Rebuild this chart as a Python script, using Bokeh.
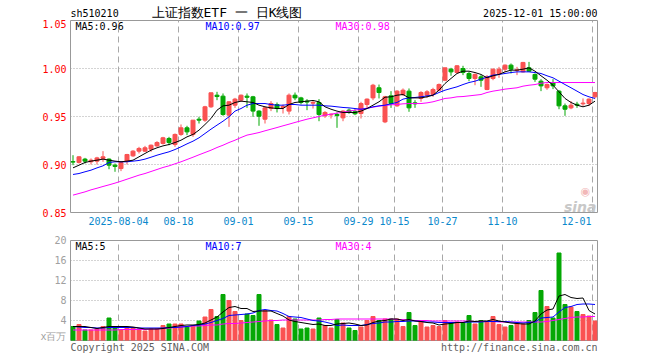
import numpy as np
from bokeh.plotting import figure
from bokeh.layouts import column
from bokeh.models import Range1d, FixedTicker, Label, PrintfTickFormatter, ColumnDataSource
from bokeh.embed import file_html
from bokeh.resources import INLINE

# ---------------- data ----------------
tick_idx = [8, 18, 28, 38, 48, 54, 62, 72, 87]
tick_labels = ["2025-08-04", "08-18", "09-01", "09-15", "09-29", "10-15", "10-27", "11-10", "12-01"]
price_ticks = [0.85, 0.90, 0.95, 1.00, 1.05]
vol_ticks = [0, 4, 8, 12, 16, 20]

opens = [0.9030, 0.9021, 0.9056, 0.9028, 0.9035, 0.9063, 0.9056, 0.8993, 0.8958, 0.9035,
         0.9090, 0.9139, 0.9139, 0.9160, 0.9194, 0.9219, 0.9271, 0.9208, 0.9313, 0.9382,
         0.9313, 0.9472, 0.9462, 0.9601, 0.9722, 0.9712, 0.9514, 0.9618, 0.9670, 0.9712,
         0.9705, 0.9556, 0.9472, 0.9583, 0.9625, 0.9594, 0.9556, 0.9722, 0.9694, 0.9660,
         0.9639, 0.9646, 0.9507, 0.9517, 0.9521, 0.9486, 0.9566, 0.9549, 0.9531, 0.9625,
         0.9694, 0.9799, 0.9444, 0.9715, 0.9611, 0.9729, 0.9764, 0.9642, 0.9688, 0.9722,
         0.9729, 0.9774, 0.9878, 0.9993, 0.9958, 1.0000, 0.9948, 0.9896, 0.9913, 0.9781,
         0.9896, 0.9948, 0.9993, 1.0035, 0.9979, 0.9965, 1.0007, 0.9938, 0.9868, 0.9799,
         0.9854, 0.9764, 0.9611, 0.9590, 0.9628, 0.9632, 0.9635, 0.9705]
closes = [0.9025, 0.9080, 0.9035, 0.9045, 0.9069, 0.9080, 0.8993, 0.8980, 0.9021, 0.9104,
          0.9139, 0.9167, 0.9174, 0.9201, 0.9229, 0.9278, 0.9229, 0.9313, 0.9382, 0.9340,
          0.9462, 0.9462, 0.9601, 0.9747, 0.9708, 0.9521, 0.9653, 0.9681, 0.9722, 0.9700,
          0.9556, 0.9503, 0.9590, 0.9635, 0.9583, 0.9604, 0.9722, 0.9694, 0.9646, 0.9650,
          0.9646, 0.9521, 0.9542, 0.9524, 0.9510, 0.9556, 0.9542, 0.9528, 0.9635, 0.9681,
          0.9826, 0.9750, 0.9705, 0.9635, 0.9764, 0.9774, 0.9590, 0.9632, 0.9750, 0.9757,
          0.9781, 0.9833, 1.0007, 0.9965, 1.0028, 0.9958, 0.9896, 0.9938, 0.9878, 0.9913,
          0.9993, 0.9993, 1.0035, 0.9993, 0.9986, 1.0063, 0.9972, 0.9889, 0.9819, 0.9833,
          0.9819, 0.9611, 0.9576, 0.9618, 0.9618, 0.9639, 0.9681, 0.9750]
highs = [0.9097, 0.9087, 0.9069, 0.9063, 0.9080, 0.9139, 0.9063, 0.9010, 0.9028, 0.9111,
         0.9149, 0.9184, 0.9194, 0.9208, 0.9243, 0.9288, 0.9288, 0.9323, 0.9417, 0.9403,
         0.9462, 0.9497, 0.9611, 0.9747, 0.9757, 0.9740, 0.9660, 0.9694, 0.9729, 0.9740,
         0.9715, 0.9566, 0.9601, 0.9660, 0.9646, 0.9625, 0.9740, 0.9750, 0.9705, 0.9681,
         0.9670, 0.9681, 0.9556, 0.9531, 0.9542, 0.9566, 0.9583, 0.9576, 0.9653, 0.9688,
         0.9840, 0.9833, 0.9715, 0.9764, 0.9774, 0.9792, 0.9792, 0.9670, 0.9764, 0.9774,
         0.9799, 0.9844, 1.0007, 1.0007, 1.0035, 1.0028, 0.9965, 0.9948, 0.9931, 0.9931,
         1.0000, 1.0017, 1.0042, 1.0052, 1.0017, 1.0069, 1.0069, 0.9948, 0.9889, 0.9844,
         0.9889, 0.9774, 0.9635, 0.9660, 0.9653, 0.9688, 0.9688, 0.9757]
lows = [0.8993, 0.9010, 0.9010, 0.9000, 0.9000, 0.9028, 0.8951, 0.8924, 0.8931, 0.9000,
        0.9080, 0.9115, 0.9132, 0.9132, 0.9184, 0.9208, 0.9201, 0.9184, 0.9299, 0.9306,
        0.9288, 0.9427, 0.9444, 0.9590, 0.9670, 0.9507, 0.9392, 0.9590, 0.9653, 0.9590,
        0.9497, 0.9403, 0.9427, 0.9556, 0.9542, 0.9531, 0.9521, 0.9670, 0.9625, 0.9566,
        0.9583, 0.9451, 0.9486, 0.9479, 0.9382, 0.9451, 0.9528, 0.9514, 0.9479, 0.9590,
        0.9670, 0.9688, 0.9431, 0.9590, 0.9601, 0.9715, 0.9549, 0.9590, 0.9653, 0.9694,
        0.9705, 0.9764, 0.9868, 0.9924, 0.9948, 0.9931, 0.9868, 0.9826, 0.9809, 0.9774,
        0.9878, 0.9903, 0.9965, 0.9948, 0.9931, 0.9958, 0.9965, 0.9861, 0.9764, 0.9778,
        0.9785, 0.9576, 0.9507, 0.9576, 0.9590, 0.9611, 0.9611, 0.9688]

ma5 = [0.8965, 0.8993, 0.9021, 0.9035, 0.9045, 0.9056, 0.9045, 0.9035, 0.9028, 0.9035,
       0.9045, 0.9080, 0.9115, 0.9149, 0.9174, 0.9194, 0.9208, 0.9229, 0.9253, 0.9288,
       0.9313, 0.9358, 0.9417, 0.9479, 0.9566, 0.9611, 0.9618, 0.9646, 0.9660, 0.9653,
       0.9646, 0.9618, 0.9601, 0.9590, 0.9583, 0.9583, 0.9625, 0.9646, 0.9653, 0.9660,
       0.9667, 0.9653, 0.9601, 0.9576, 0.9556, 0.9542, 0.9542, 0.9542, 0.9556, 0.9583,
       0.9618, 0.9653, 0.9701, 0.9705, 0.9722, 0.9729, 0.9694, 0.9694, 0.9694, 0.9705,
       0.9722, 0.9774, 0.9844, 0.9896, 0.9948, 0.9972, 0.9972, 0.9958, 0.9938, 0.9903,
       0.9924, 0.9938, 0.9965, 0.9983, 0.9983, 0.9993, 1.0007, 0.9972, 0.9924, 0.9878,
       0.9826, 0.9757, 0.9688, 0.9646, 0.9618, 0.9601, 0.9618, 0.9660]
ma10 = [0.8896, 0.8906, 0.8924, 0.8941, 0.8965, 0.8986, 0.9021, 0.9028, 0.9028, 0.9028,
        0.9035, 0.9042, 0.9056, 0.9076, 0.9097, 0.9115, 0.9132, 0.9156, 0.9184, 0.9215,
        0.9243, 0.9278, 0.9323, 0.9368, 0.9410, 0.9451, 0.9497, 0.9556, 0.9583, 0.9618,
        0.9635, 0.9635, 0.9635, 0.9625, 0.9618, 0.9618, 0.9625, 0.9625, 0.9618, 0.9618,
        0.9618, 0.9618, 0.9611, 0.9608, 0.9601, 0.9594, 0.9590, 0.9583, 0.9576, 0.9583,
        0.9601, 0.9611, 0.9618, 0.9632, 0.9646, 0.9681, 0.9694, 0.9698, 0.9705, 0.9715,
        0.9722, 0.9750, 0.9774, 0.9792, 0.9809, 0.9833, 0.9854, 0.9868, 0.9889, 0.9910,
        0.9931, 0.9938, 0.9948, 0.9958, 0.9965, 0.9965, 0.9965, 0.9958, 0.9948, 0.9924,
        0.9903, 0.9868, 0.9833, 0.9799, 0.9764, 0.9729, 0.9705, 0.9688]
ma30 = [0.8681, 0.8698, 0.8715, 0.8736, 0.8753, 0.8771, 0.8788, 0.8806, 0.8826, 0.8847,
        0.8868, 0.8889, 0.8906, 0.8927, 0.8948, 0.8969, 0.8986, 0.9007, 0.9028, 0.9052,
        0.9076, 0.9101, 0.9125, 0.9149, 0.9177, 0.9201, 0.9229, 0.9253, 0.9281, 0.9306,
        0.9319, 0.9333, 0.9351, 0.9368, 0.9385, 0.9403, 0.9420, 0.9438, 0.9455, 0.9472,
        0.9486, 0.9500, 0.9514, 0.9524, 0.9535, 0.9545, 0.9556, 0.9566, 0.9576, 0.9587,
        0.9597, 0.9608, 0.9615, 0.9622, 0.9625, 0.9632, 0.9635, 0.9635, 0.9635, 0.9642,
        0.9653, 0.9670, 0.9688, 0.9694, 0.9705, 0.9708, 0.9715, 0.9722, 0.9729, 0.9750,
        0.9764, 0.9774, 0.9785, 0.9792, 0.9799, 0.9816, 0.9826, 0.9833, 0.9847, 0.9854,
        0.9854, 0.9854, 0.9854, 0.9854, 0.9854, 0.9854, 0.9854, 0.9854]

volumes = [2.8, 3.2, 2.1, 2.1, 2.3, 2.8, 4.5, 2.5, 2.1, 2.7,
           2.5, 2.3, 1.9, 2.3, 2.3, 3.0, 3.3, 3.3, 3.3, 2.8,
           3.0, 3.9, 4.7, 6.2, 4.8, 9.2, 8.0, 5.8, 4.0, 5.3,
           5.0, 9.2, 6.0, 4.1, 3.2, 2.5, 4.8, 4.3, 2.3, 2.5,
           2.3, 4.5, 3.0, 2.5, 4.2, 3.5, 2.5, 2.0, 2.7, 4.0,
           4.8, 4.0, 4.3, 4.3, 4.3, 2.8, 5.6, 3.0, 3.9, 2.7,
           3.0, 2.8, 4.0, 3.5, 3.7, 3.5, 5.0, 3.3, 4.0, 3.7,
           4.8, 3.2, 2.7, 3.0, 3.5, 3.3, 4.0, 5.6, 10.0, 6.8,
           4.5, 17.5, 7.2, 6.7, 5.8, 5.2, 4.9, 3.9]
vma5 = [2.8, 2.8, 2.8, 2.6, 2.4, 2.6, 2.8, 2.8, 2.8, 2.8,
        2.7, 2.5, 2.3, 2.3, 2.3, 2.4, 2.6, 2.8, 3.0, 3.1,
        3.1, 3.2, 3.5, 4.1, 4.7, 5.7, 6.6, 6.8, 6.4, 6.4,
        5.8, 5.9, 5.9, 5.9, 5.4, 4.9, 4.1, 3.8, 3.6, 3.4,
        3.2, 3.3, 3.0, 3.0, 3.3, 3.4, 3.5, 3.3, 3.0, 3.1,
        3.6, 3.9, 4.0, 4.3, 4.3, 4.0, 4.2, 3.9, 3.8, 3.6,
        3.5, 3.1, 3.3, 3.4, 3.6, 3.6, 3.9, 3.8, 3.9, 3.9,
        4.2, 3.9, 3.7, 3.5, 3.4, 3.3, 3.3, 3.9, 5.3, 6.1,
        6.3, 8.9, 9.2, 8.6, 8.4, 8.5, 6.0, 5.3]
vma10 = [2.8, 2.7, 2.6, 2.6, 2.5, 2.5, 2.6, 2.6, 2.6, 2.6,
         2.6, 2.5, 2.5, 2.5, 2.5, 2.5, 2.6, 2.6, 2.7, 2.8,
         3.0, 3.1, 3.3, 3.6, 4.0, 4.4, 5.0, 5.1, 5.2, 5.3,
         5.5, 6.0, 6.2, 6.0, 5.9, 5.4, 4.8, 4.7, 4.6, 4.3,
         4.0, 3.9, 3.7, 3.4, 3.0, 3.1, 3.0, 3.0, 3.0, 3.2,
         3.4, 3.5, 3.7, 3.7, 3.8, 3.8, 3.9, 3.9, 3.8, 3.7,
         3.7, 3.6, 3.6, 3.6, 3.6, 3.6, 3.7, 3.7, 3.7, 3.8,
         3.8, 3.8, 3.8, 3.7, 3.6, 3.5, 3.6, 3.7, 4.5, 4.6,
         4.7, 5.7, 6.6, 6.8, 7.2, 7.3, 7.3, 7.2]
vma30 = [2.1, 2.1, 2.1, 2.1, 2.1, 2.1, 2.1, 2.1, 2.2, 2.2,
         2.2, 2.2, 2.2, 2.3, 2.3, 2.4, 2.5, 2.6, 2.7, 2.8,
         2.9, 2.9, 3.0, 3.1, 3.1, 3.3, 3.4, 3.4, 3.5, 3.6,
         3.7, 3.8, 3.9, 4.0, 4.0, 4.1, 4.1, 4.1, 4.1, 4.1,
         4.1, 4.1, 4.2, 4.2, 4.3, 4.3, 4.3, 4.3, 4.3, 4.3,
         4.3, 4.3, 4.3, 4.3, 4.2, 4.2, 4.1, 4.0, 4.0, 4.0,
         3.9, 3.9, 3.9, 3.9, 3.9, 3.9, 3.9, 3.8, 3.8, 3.8,
         3.8, 3.7, 3.7, 3.7, 3.7, 3.7, 3.7, 3.7, 3.7, 3.8,
         4.0, 4.2, 4.4, 4.6, 4.7, 4.7, 4.8, 4.8]

# ---------------- styling ----------------
RED = "#fa5252"
GREEN = "#05a805"
GRID = "#a8a8a8"
MONO = "DejaVu Sans Mono"
XMAX = 527 / 6.0
W = 660
BL, BR = 70, 63
LAST_SHIFT = -16 / 6.0   # last date label sits left of its gridline

n = len(closes)
xc = np.arange(n) + 5 / 12.0
cols = [RED if c >= o else GREEN for o, c in zip(opens, closes)]
src = ColumnDataSource(dict(
    x=xc, o=opens, h=highs, l=lows, c=closes,
    top=np.maximum(opens, closes), bot=np.minimum(opens, closes),
    col=cols, vol=volumes, ma5=ma5, ma10=ma10, ma30=ma30,
    vma5=vma5, vma10=vma10, vma30=vma30))

xr = Range1d(0, XMAX)


def strip(fig):
    fig.axis.visible = False
    fig.grid.visible = False
    fig.outline_line_color = None


def base(fig):
    fig.outline_line_color = "#999999"
    fig.outline_line_width = 1
    fig.xgrid.ticker = FixedTicker(ticks=tick_idx)
    fig.xgrid.grid_line_color = GRID
    fig.xgrid.grid_line_dash = "6 4"
    fig.ygrid.grid_line_color = GRID
    fig.ygrid.grid_line_dash = "1 2"
    for ax in fig.yaxis:
        ax.axis_line_color = None
        ax.major_tick_line_color = None
        ax.minor_tick_line_color = None
        ax.major_tick_out = 0
        ax.major_tick_in = 0
        ax.major_label_text_font = MONO
        ax.major_label_text_font_size = "10px"
        ax.major_label_standoff = 4


# ---------------- header ----------------
h = figure(width=W, height=19, title=None, output_backend="svg", toolbar_location=None,
           x_range=xr, y_range=Range1d(0, 19),
           min_border_left=BL, min_border_right=BR, min_border_top=0, min_border_bottom=0)
strip(h)
h.add_layout(Label(x=0, y=6, text="sh510210", text_baseline="middle",
                   text_font=MONO, text_font_size="10px", text_color="#000000"))
h.add_layout(Label(x=0, y=7.5, x_offset=81, text="上证指数ETF 一 日K线图",
                   text_baseline="middle", text_font=MONO,
                   text_font_size="13px", text_color="#000000"))
h.add_layout(Label(x=XMAX, y=6, text="2025-12-01 15:00:00", text_align="right",
                   text_baseline="middle", text_font=MONO,
                   text_font_size="10px", text_color="#000000"))

# ---------------- price panel ----------------
p = figure(width=W, height=211, title=None, output_backend="svg", toolbar_location=None,
           x_range=xr, y_range=Range1d(0.85, 1.05),
           min_border_left=BL, min_border_right=BR, min_border_top=1, min_border_bottom=18)
base(p)
p.ygrid.ticker = FixedTicker(ticks=[0.90, 0.95, 1.00])
p.yaxis.ticker = FixedTicker(ticks=price_ticks)
p.yaxis.formatter = PrintfTickFormatter(format="%.2f")
p.yaxis.major_label_text_color = "#ff0000"
label_pos = tick_idx[:-1] + [tick_idx[-1] + LAST_SHIFT]
p.xaxis.ticker = FixedTicker(ticks=label_pos)
p.xaxis.major_label_overrides = {t: l for t, l in zip(label_pos, tick_labels)}
p.xaxis.axis_line_color = None
p.xaxis.major_tick_line_color = None
p.xaxis.minor_tick_line_color = None
p.xaxis.major_tick_out = 0
p.xaxis.major_tick_in = 0
p.xaxis.major_label_text_font = MONO
p.xaxis.major_label_text_font_size = "10px"
p.xaxis.major_label_text_color = "#0a88cc"
p.xaxis.major_label_standoff = 4

p.segment(x0="x", y0="l", x1="x", y1="h", line_color="col", line_width=1, source=src)
p.vbar(x="x", width=4 / 6.0, top="top", bottom="bot", fill_color="col", line_color="col",
       line_width=1, source=src)
p.line("x", "ma30", line_color="#ff00ff", line_width=1, source=src)
p.line("x", "ma10", line_color="#0000ff", line_width=1, source=src)
p.line("x", "ma5", line_color="#000000", line_width=1, source=src)

for off, txt, col in [(5, "MA5:0.96", "#000000"), (135, "MA10:0.97", "#0000ff"),
                      (265, "MA30:0.98", "#ff00ff")]:
    p.add_layout(Label(x=0, y=1.05, x_offset=off, y_offset=0, text=txt, text_baseline="top",
                       text_font=MONO, text_font_size="10px", text_color=col))

p.add_layout(Label(x=XMAX, y=0.85, text="sina", text_align="right", text_baseline="alphabetic",
                   x_offset=-1, y_offset=6, text_font="DejaVu Sans", text_font_style="bold italic",
                   text_font_size="14px", text_color="#c8c8c8"))
p.add_layout(Label(x=XMAX, y=0.85, text="◉", text_align="center", text_baseline="middle",
                   x_offset=-12, y_offset=21, text_font="DejaVu Sans",
                   text_font_size="11px", text_color="#f2b8b8"))

# ---------------- volume panel ----------------
v = figure(width=W, height=111, title=None, output_backend="svg", toolbar_location=None,
           x_range=xr, y_range=Range1d(0, 20),
           min_border_left=BL, min_border_right=BR, min_border_top=10, min_border_bottom=1)
base(v)
v.ygrid.ticker = FixedTicker(ticks=[4, 8, 12, 16])
v.yaxis.ticker = FixedTicker(ticks=vol_ticks)
v.yaxis.major_label_overrides = {0: "x百万"}
v.yaxis.major_label_text_color = "#a0a0a0"
v.xaxis.visible = False

v.vbar(x="x", width=4 / 6.0, top="vol", bottom=0, fill_color="col", line_color="col",
       line_width=1, source=src)
v.line("x", "vma30", line_color="#ff00ff", line_width=1, source=src)
v.line("x", "vma10", line_color="#0000ff", line_width=1, source=src)
v.line("x", "vma5", line_color="#000000", line_width=1, source=src)

for off, txt, col in [(5, "MA5:5", "#000000"), (135, "MA10:7", "#0000ff"),
                      (265, "MA30:4", "#ff00ff")]:
    v.add_layout(Label(x=0, y=20, x_offset=off, y_offset=0, text=txt, text_baseline="top",
                       text_font=MONO, text_font_size="10px", text_color=col))

# ---------------- footer ----------------
f = figure(width=W, height=18, title=None, output_backend="svg", toolbar_location=None,
           x_range=xr, y_range=Range1d(0, 18),
           min_border_left=BL, min_border_right=BR, min_border_top=0, min_border_bottom=0)
strip(f)
f.add_layout(Label(x=0, y=18, text="Copyright 2025 SINA.COM", text_baseline="top",
                   text_font=MONO, text_font_size="10px", text_color="#606060"))
f.add_layout(Label(x=XMAX, y=18, text="http://finance.sina.com.cn", text_align="right",
                   text_baseline="top", text_font=MONO, text_font_size="10px",
                   text_color="#606060"))

layout = column(h, p, v, f)
open("out.html", "w").write(file_html(layout, INLINE))
